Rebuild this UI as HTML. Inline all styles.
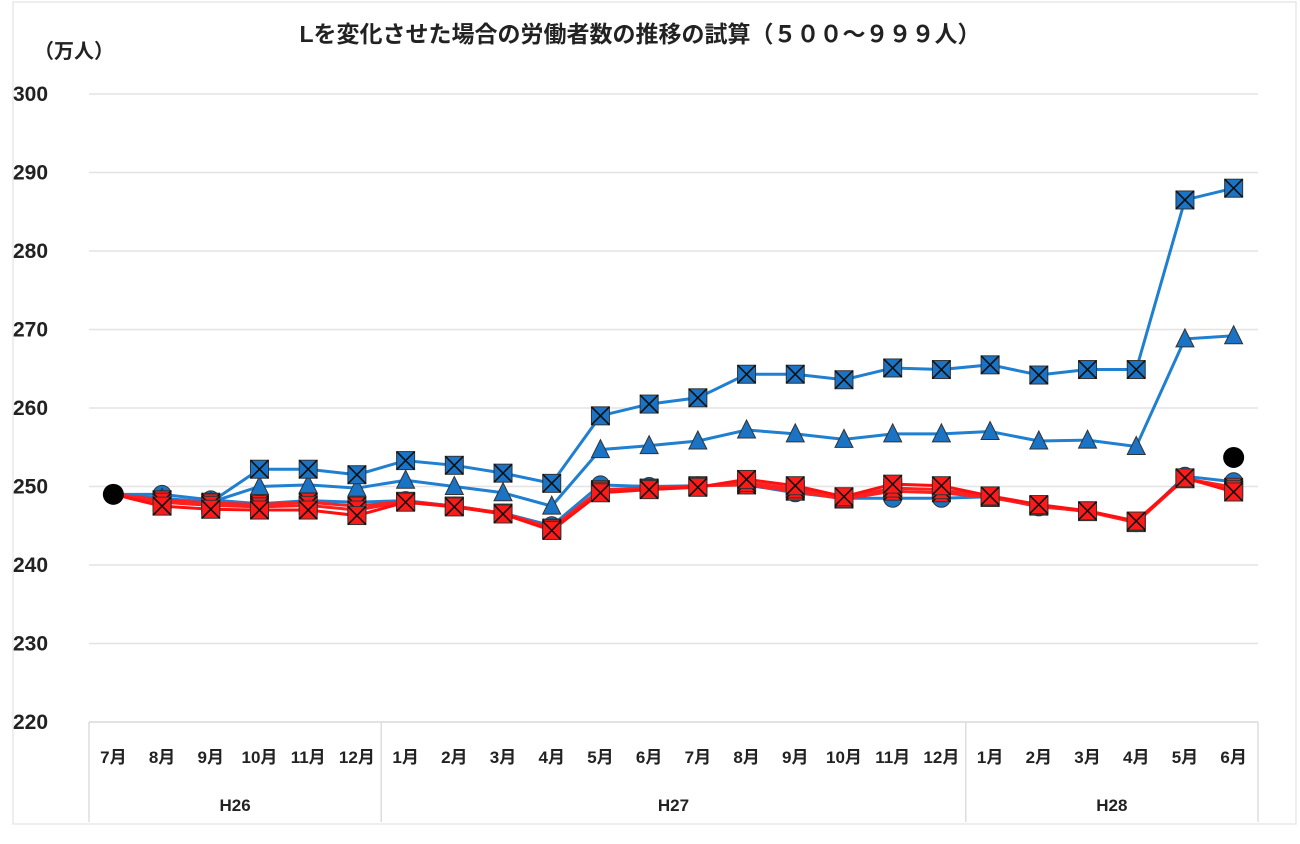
<!DOCTYPE html>
<html><head><meta charset="utf-8"><style>
body{margin:0;background:#fff;}
svg text{font-family:"Liberation Sans","Noto Sans CJK JP",sans-serif;font-weight:bold;fill:#222;}
</style></head><body>
<svg id="c" width="1300" height="839" xmlns="http://www.w3.org/2000/svg">
<rect x="13" y="2" width="1283" height="822" fill="#fff" stroke="#ddd"/>
<text x="640" y="42" font-size="23" text-anchor="middle">Lを変化させた場合の労働者数の推移の試算（５００～９９９人）</text>
<text x="34" y="58" font-size="20">（万人）</text>
<g id="grid"></g><g id="cat"></g><g id="series"></g>
</svg>
<script>
const months=["7月","8月","9月","10月","11月","12月","1月","2月","3月","4月","5月","6月","7月","8月","9月","10月","11月","12月","1月","2月","3月","4月","5月","6月"];
const years=["H26","H27","H28"];
const yearSpan=[6,12,6];
const yTicks=[220,230,240,250,260,270,280,290,300];
const blueX=[249,248.3,248,252.2,252.2,251.5,253.3,252.7,251.7,250.4,259,260.5,261.3,264.3,264.3,263.6,265.1,264.9,265.5,264.2,264.9,264.9,286.5,288];
const blueTri=[249,248.5,248,250,250.2,249.8,250.8,250,249.2,247.5,254.7,255.2,255.8,257.2,256.7,256,256.7,256.7,257,255.8,255.9,255.1,268.8,269.2];
const blueCircle=[249,249,248.3,247.8,248.2,248,248.2,247.5,246.6,245,250.2,250,250.1,250.2,249.2,248.5,248.5,248.5,248.7,247.4,246.9,245.4,251.3,250.6];
const redA=[249,247.5,247.1,247,247,246.3,248,247.4,246.5,244.4,249.2,249.6,249.9,250.9,250.1,248.7,250.3,250.1,248.8,247.7,246.9,245.6,251.1,249.3];
const redB=[249,248,247.6,247.4,247.6,247,248.1,247.5,246.6,244.6,249.4,249.7,250,250.5,249.7,248.5,249.8,249.6,248.7,247.6,246.9,245.5,251,249.6];
const redC=[249,248.3,247.9,247.7,248,247.5,248.1,247.5,246.6,244.7,249.6,249.8,250.1,250.2,249.4,248.4,249.4,249.2,248.6,247.5,246.8,245.4,251,249.9];
const blackPts=[[0,249],[23,253.7]];
const NS="http://www.w3.org/2000/svg";
const X0=89,X1=1258,Y0=722,Y1=94,vmin=220,vmax=300;
const cw=(X1-X0)/months.length;
const xs=i=>X0+cw*(i+0.5);
const ys=v=>Y0-(v-vmin)/(vmax-vmin)*(Y0-Y1);
function mk(t,a,p){const e=document.createElementNS(NS,t);for(const k in a)e.setAttribute(k,a[k]);p.appendChild(e);return e;}
const grid=document.getElementById('grid');
yTicks.forEach(v=>{
 const l=mk('line',{x1:X0,x2:X1,y1:ys(v),y2:ys(v),stroke:'#e3e3e3','stroke-width':1.5},grid);
 
 
 const t=mk('text',{x:13,y:ys(v)+7,'font-size':21},grid);t.textContent=v;
 
 
});
const cat=document.getElementById('cat');
mk('line',{x1:X0,x2:X1,y1:Y0,y2:Y0,stroke:'#ddd','stroke-width':1.5},cat);
months.forEach((m,i)=>{const t=mk('text',{x:xs(i),y:763,'font-size':17,'text-anchor':'middle'},cat);t.textContent=m;
 
 });
let acc=0;
[0].concat(yearSpan).forEach((s,k)=>{acc+=s;const x=X0+cw*acc;mk('line',{x1:x,x2:x,y1:Y0,y2:822,stroke:'#ddd','stroke-width':1.5},cat);});
acc=0;
years.forEach((y,k)=>{const mid=X0+cw*(acc+yearSpan[k]/2);acc+=yearSpan[k];
 const t=mk('text',{x:mid,y:811,'font-size':17,'text-anchor':'middle'},cat);t.textContent=y;
 
 });
const sg=document.getElementById('series');
function line(d,col,name){const p=mk('polyline',{points:d.map((v,i)=>xs(i)+','+ys(v)).join(' '),fill:'none',stroke:col,'stroke-width':3},sg);
 
 }
function xsq(d,fill,name){d.forEach((v,i)=>{if(i==0)return;const x=xs(i),y=ys(v),s=9;const g=mk('g',{},sg);
 
 
 mk('rect',{x:x-s,y:y-s,width:2*s,height:2*s,fill:fill,stroke:'#333','stroke-width':1},g);
 mk('path',{d:`M${x-s} ${y-s}L${x+s} ${y+s}M${x+s} ${y-s}L${x-s} ${y+s}`,stroke:'#111','stroke-width':1.6},g);});}
function tri(d,name){d.forEach((v,i)=>{if(i==0)return;const x=xs(i),y=ys(v);const p=mk('path',{d:`M${x} ${y-10}L${x+9} ${y+8}L${x-9} ${y+8}Z`,fill:'#1a73c4',stroke:'#333','stroke-width':1},sg);
 
 });}
function circ(d,name){d.forEach((v,i)=>{if(i==0)return;const c=mk('circle',{cx:xs(i),cy:ys(v),r:9,fill:'#1a73c4',stroke:'#333','stroke-width':1},sg);
 
 });}
line(blueCircle,'#1f7fd0','blue-circle');circ(blueCircle,'blue-circle');
line(blueTri,'#1f7fd0','blue-triangle');tri(blueTri,'blue-triangle');
line(blueX,'#1f7fd0','blue-x');xsq(blueX,'#1a73c4','blue-x');
line(redC,'#ff2020','red-c');line(redB,'#ff2020','red-b');line(redA,'#ff1010','red-a');
xsq(redC,'#ff1a1a','red-c');xsq(redB,'#ff1a1a','red-b');xsq(redA,'#ff1a1a','red-a');
blackPts.forEach(p=>{const c=mk('circle',{cx:xs(p[0]),cy:ys(p[1]),r:10.5,fill:'#000'},sg);
 
 });
</script>
</body></html>
